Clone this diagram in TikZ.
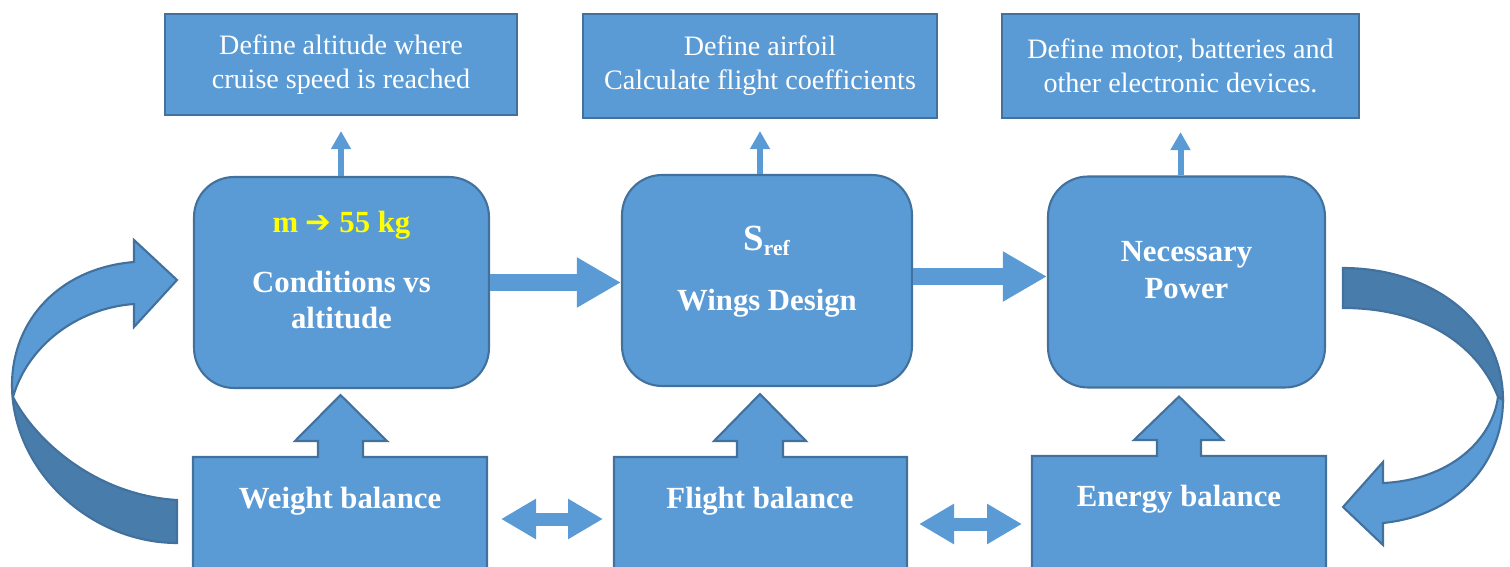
\documentclass[tikz,border=0pt]{standalone}
\usepackage{fontspec}
\setmainfont{Liberation Serif}
\newfontfamily\arrowfont{DejaVu Sans}
\usetikzlibrary{arrows.meta,calc,positioning}
\definecolor{boxblue}  {RGB}{91,155,213}
\definecolor{edgeblue} {RGB}{65,113,156}
\definecolor{shadeblue}{RGB}{72,124,170}
\definecolor{massyellow}{RGB}{255,255,0}

\begin{document}
\begin{tikzpicture}[
    x=0.02cm,y=-0.02cm,
    task/.style   ={draw=edgeblue,fill=boxblue,line width=1.2pt,text=white,
                    minimum width=7.08cm,minimum height=2.08cm,
                    font=\fontsize{16}{19.5}\selectfont,align=center},
    stage/.style  ={draw=edgeblue,fill=boxblue,line width=1.2pt,text=white,
                    rounded corners=0.8cm,minimum height=4.22cm,text depth=0.5cm,
                    font=\bfseries\fontsize{17.5}{21}\selectfont,align=center},
    balance/.style={text=white,font=\bfseries\fontsize{17.5}{21}\selectfont},
    callout/.style={draw=edgeblue,fill=boxblue,line width=1.2pt,line join=miter},
    thinarr/.style={-{Triangle[length=0.36cm,width=0.38cm]},boxblue,line width=0.12cm},
    bigarr/.style ={-{Triangle[length=0.88cm,width=0.94cm]},boxblue,line width=0.34cm},
    dblarr/.style ={{Triangle[length=0.7cm,width=0.76cm]}-{Triangle[length=0.7cm,width=0.76cm]},
                    boxblue,line width=0.26cm},
  ]
  \useasboundingbox (0,0) rectangle (1510,567);

  %% Tasks (top row)
  \node[task,minimum width=7.04cm,minimum height=2.02cm] (alt) at (341,64.5)
    {Define altitude where\\cruise speed is reached};
  \node[task] (foil) at (760,66) {Define airfoil\\Calculate flight coefficients};
  \node[task,minimum width=7.14cm] (motor) at (1180.5,66)
    {Define motor, batteries and\\other electronic devices.};

  %% Design stages (middle row)
  \node[stage,minimum width=5.9cm] (cv) at (341.5,282.5)
    {{\color{massyellow}m {\arrowfont\bfseries ➔} 55 kg}\\[13pt]Conditions vs\\altitude};
  \node[stage,minimum width=5.8cm] (wd) at (767,280.5)
    {{\fontsize{21}{21}\selectfont S}\textsubscript{ref}\\[13pt]Wings Design};
  \node[stage,minimum width=5.54cm] (np) at (1186.5,282) {Necessary\\Power};

  %% Stage → task
  \draw[thinarr] (cv.north -| alt.south) -- ($(alt.south)+(0,15)$);
  \draw[thinarr] (wd.north -| foil.south) -- ($(foil.south)+(0,12)$);
  \draw[thinarr] (np.north -| motor.south) -- ($(motor.south)+(0,13)$);

  %% Stage → stage
  \draw[bigarr] (cv.east) -- (cv.east -| wd.west);
  \draw[bigarr] ($(wd.east)+(0,-4)$) -- ($(wd.east -| np.west)+(0,-4)$);

  %% Balances (bottom row)
  \draw[callout] (193,611) -- (193,457) -- (318,457) -- (318,441) -- (295,441)
    -- ($(cv.south)+(-1,6)$) -- (387,441) -- (363,441) -- (363,457)
    -- (487,457) -- (487,611) -- cycle;
  \draw[callout] (614,611) -- (614,457) -- (737,457) -- (737,441) -- (714,441)
    -- ($(wd.south)+(-7,7)$) -- (806,441) -- (783,441) -- (783,457)
    -- (907,457) -- (907,611) -- cycle;
  \draw[callout] (1032,611) -- (1032,456) -- (1157,456) -- (1157,440) -- (1134,440)
    -- ($(np.south)+(-7.5,8)$) -- (1223,440) -- (1201,440) -- (1201,456)
    -- (1326,456) -- (1326,611) -- cycle;
  \node[balance] (wb) at (340,501) {Weight balance};
  \node[balance] (fb) at (760,501) {Flight balance};
  \node[balance] (eb) at (1179,499) {Energy balance};

  %% Balance ↔ balance
  \draw[dblarr] ($(wb)+(161,18)$) -- ($(fb)+(-157,18)$);
  \draw[dblarr] ($(fb)+(159,23)$) -- ($(eb)+(-157,25)$);

  %% Loop back (left)
  \draw[callout,fill=shadeblue] (177,543) .. controls (90,543) and (12,470) .. (12,385)
    -- (13,397) .. controls (35,440) and (95,495) .. (177,500) -- cycle;
  \draw[callout] (13,397) .. controls (28,345) and (78,308) .. (134,304)
    -- (134,327) -- (177,280) -- (134,240) -- (134,262)
    .. controls (60,268) and (12,320) .. (12,385) -- cycle;

  %% Loop forward (right)
  \draw[callout,fill=shadeblue] (1343,268) .. controls (1430,268) and (1503,320) .. (1503,400)
    -- (1498,397) .. controls (1480,350) and (1430,308) .. (1343,308) -- cycle;
  \draw[callout] (1498,397) .. controls (1492,440) and (1450,480) .. (1383,483)
    -- (1383,462) -- (1343,507) -- (1383,545) -- (1383,523)
    .. controls (1460,515) and (1503,460) .. (1503,400) -- cycle;
\end{tikzpicture}
\end{document}
